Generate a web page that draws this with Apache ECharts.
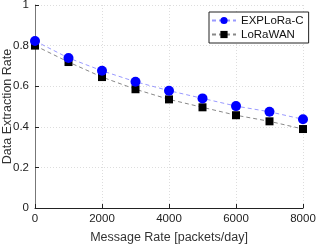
<!DOCTYPE html>
<html><head><meta charset="utf-8">
<script src="https://cdn.jsdelivr.net/npm/echarts@6/dist/echarts.min.js"></script>
<style>html,body{margin:0;padding:0;background:#fff}#c{width:316px;height:244px}</style>
</head><body><div id="c"></div>
<script>
const rates = [0, 1000, 2000, 3000, 4000, 5000, 6000, 7000, 8000];
const explora = [0.823, 0.739, 0.676, 0.622, 0.578, 0.540, 0.502, 0.474, 0.437];
const lorawan = [0.800, 0.719, 0.645, 0.585, 0.535, 0.496, 0.457, 0.427, 0.389];
const seriesNames = ['EXPLoRa-C', 'LoRaWAN'];

const chart = echarts.init(document.getElementById('c'), null, {renderer: 'canvas'});
const font = 'Liberation Sans, Arial, sans-serif';
chart.setOption({
  animation: false,
  grid: {left: 35, right: 13, top: 5, bottom: 36, containLabel: false, outerBoundsMode: 'none'},
  legend: {
    top: 12, left: 209, orient: 'vertical', itemWidth: 24, itemHeight: 9, itemGap: 1,
    backgroundColor: '#fff', borderColor: '#222', borderWidth: 1, padding: [2, 5, 2, 2],
    textStyle: {fontFamily: font, fontSize: 11.5, color: '#111', lineHeight: 13},
    data: seriesNames
  },
  xAxis: {
    type: 'value', min: 0, max: 8000, interval: 2000,
    name: 'Message Rate [packets/day]', nameLocation: 'middle', nameGap: 23,
    nameTextStyle: {fontFamily: font, fontSize: 12.5, color: '#333'},
    nameMoveOverlap: false,
    axisLine: {lineStyle: {color: '#222', width: 1}},
    axisTick: {inside: true, length: 4, lineStyle: {color: '#222'}},
    axisLabel: {fontFamily: font, fontSize: 11.5, color: '#222', margin: 5,
      formatter: v => String(v)},
    splitLine: {show: true, lineStyle: {color: '#ddd', type: [1, 2]}}
  },
  yAxis: {
    type: 'value', min: 0, max: 1, interval: 0.2,
    name: 'Data Extraction Rate', nameLocation: 'middle', nameGap: 21,
    nameTextStyle: {fontFamily: font, fontSize: 12.5, color: '#333'},
    nameMoveOverlap: false,
    axisLine: {show: true, lineStyle: {color: '#777', width: 1}},
    axisTick: {show: true, inside: true, length: 4, lineStyle: {color: '#222'}},
    axisLabel: {fontFamily: font, fontSize: 11.5, color: '#222', margin: 6,
      formatter: v => (Math.round(v * 10) / 10).toString()},
    splitLine: {show: true, lineStyle: {color: '#ddd', type: [1, 2]}}
  },
  series: [
    {name: seriesNames[0], type: 'line', data: rates.map((r, i) => [r, explora[i]]),
     symbol: 'circle', symbolSize: 10, itemStyle: {color: '#0000ff'},
     lineStyle: {color: '#9999ff', width: 1, type: [4, 3]}, z: 3},
    {name: seriesNames[1], type: 'line', data: rates.map((r, i) => [r, lorawan[i]]),
     symbol: 'rect', symbolSize: 8, itemStyle: {color: '#000'},
     lineStyle: {color: '#888', width: 1, type: [4, 3]}, z: 2}
  ]
});
</script></body></html>
